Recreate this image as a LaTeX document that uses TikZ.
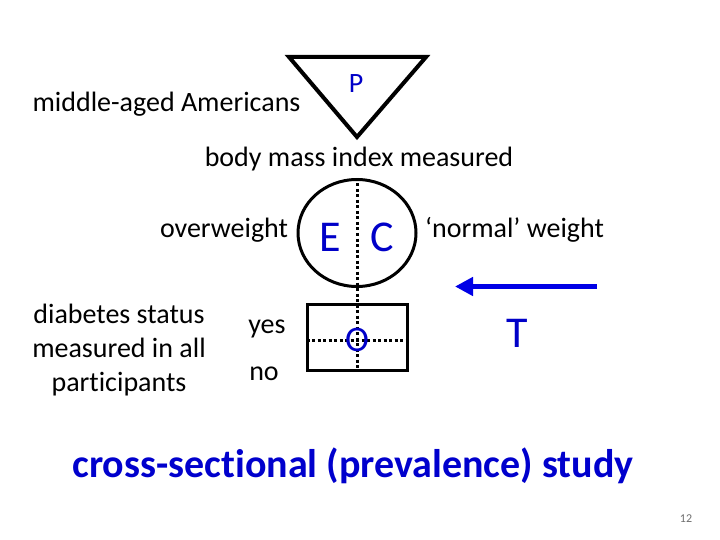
\documentclass[tikz,border=0pt]{standalone}
\usepackage{fontspec}
\setmainfont{Carlito}[Ligatures=NoCommon]
\usetikzlibrary{arrows.meta,shapes.geometric}
\definecolor{lblue}{RGB}{0,0,200}
\definecolor{tblue}{RGB}{0,0,205}
\definecolor{ablue}{RGB}{0,0,230}
\definecolor{pgray}{RGB}{110,110,110}
\tikzset{
  txt/.style={font=\fontsize{28}{34}\selectfont, inner sep=0pt, anchor=base},
  big/.style={font=\fontsize{44}{50}\selectfont, text=lblue, inner sep=0pt, anchor=base},
  dots/.style={line width=3pt, dash pattern=on 3pt off 2.5pt},
  shapeline/.style={draw=black, line width=3pt},
}
\begin{document}
\begin{tikzpicture}[x=1pt,y=-1pt]
\useasboundingbox[fill=white] (0,0) rectangle (720,540);
% triangle
\draw[line width=4pt, line join=miter] (289,57) -- (426,57) -- (357,137) -- cycle;
\node[txt, text=lblue] (P) at (356,93) {P};
\node[txt] (pop) at (166.5,111.5) {middle-aged Americans};
\node[txt] (bmi) at (359,166.5) {body mass index measured};
% circle
\node[shapeline, ellipse, minimum width=118pt, minimum height=107pt, inner sep=0pt] (ec) at (357,233) {};
% square
\node[shapeline, rectangle, minimum width=100pt, minimum height=66pt, inner sep=0pt] (box) at (357,337.5) {};
\coordinate (hl) at (306.5,340);
\coordinate (hr) at (406.5,340);
\draw[dots] (ec.north) -- (box.south);
\draw[dots] (hl) -- (hr);
\node[big] (E) at (330,251.5) {E};
\node[big] (C) at (382,251.5) {C};
\node[txt, font=\fontsize{36}{40}\selectfont, text=lblue] (O) at (357,351) {O};
\node[txt] (ow) at (224,237) {overweight};
\node[txt] (nw) at (514.5,237) {‘normal’ weight};
\node[txt, align=center, font=\fontsize{28}{34}\selectfont] (dia) at (119,391.5) {diabetes status\\measured in all\\participants};
\node[txt] (yes) at (267,333) {yes};
\node[txt] (no) at (264,380) {no};
% arrow
\coordinate (as) at (597,286.5);
\coordinate (ae) at (455,286.5);
\draw[ablue, line width=5pt, -{Triangle[length=18pt,width=18pt]}] (as) -- (ae);
\node[big] (T) at (517,347) {T};
\node[txt, font=\bfseries\fontsize{40}{46}\selectfont, text=tblue] (title) at (353,477) {cross-sectional (prevalence) study};
\node[txt, font=\fontsize{12}{14}\selectfont, text=pgray] (pg) at (686,522) {12};
\end{tikzpicture}
\end{document}
